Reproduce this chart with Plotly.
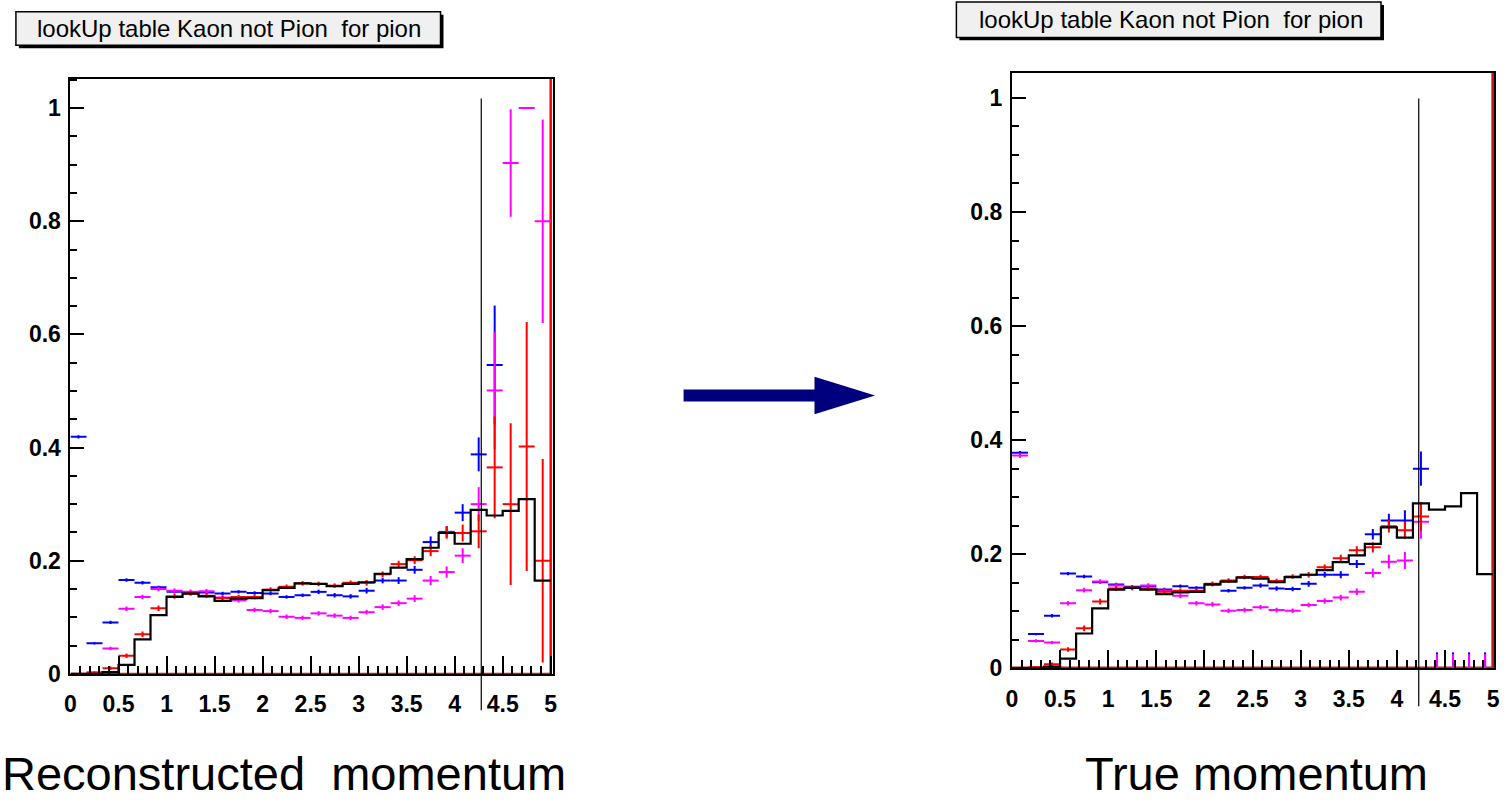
import numpy as np
import plotly.graph_objects as go

W, H = 1511, 802

# ---------------- binning ----------------
nbins = 30
x_min, x_max = 0.0, 5.0
edges = np.linspace(x_min, x_max, nbins + 1)
centers = 0.5 * (edges[:-1] + edges[1:])
half_w = (x_max - x_min) / nbins / 2.0

# ---------------- data: reconstructed momentum (left) ----------------
black_L = [0, 0, 0.003, 0.016, 0.061, 0.104, 0.136, 0.142, 0.137, 0.129,
           0.133, 0.134, 0.148, 0.152, 0.160, 0.159, 0.155, 0.159, 0.162, 0.177,
           0.188, 0.203, 0.223, 0.249, 0.230, 0.290, 0.280, 0.288, 0.309, 0.165]
blue_L = [0.419, 0.054, 0.091, 0.166, 0.161, 0.153, 0.145, 0.144, 0.144, 0.142,
          0.145, 0.143, 0.142, 0.136, 0.139, 0.145, 0.139, 0.137, 0.147, 0.165,
          0.165, 0.184, 0.233, 0.251, 0.285, 0.388, 0.546, None, None, None]
blue_L_err = [0.003, 0.002, 0.003, 0.003, 0.003, 0.003, 0.003, 0.003, 0.003, 0.003,
              0.003, 0.003, 0.003, 0.003, 0.003, 0.004, 0.004, 0.004, 0.005, 0.005,
              0.006, 0.007, 0.010, 0.010, 0.015, 0.030, 0.105, 0, 0, 0]
magenta_L = [None, 0.003, 0.045, 0.115, 0.136, 0.150, 0.147, 0.145, 0.146, 0.135,
             0.130, 0.113, 0.111, 0.101, 0.099, 0.107, 0.103, 0.099, 0.109, 0.118,
             0.125, 0.133, 0.165, 0.180, 0.209, 0.300, 0.501, 0.903, 1.000, 0.800]
magenta_L_err = [0, 0.002, 0.003, 0.004, 0.004, 0.004, 0.004, 0.004, 0.004, 0.004,
                 0.004, 0.004, 0.004, 0.004, 0.004, 0.004, 0.004, 0.004, 0.004, 0.005,
                 0.005, 0.006, 0.008, 0.010, 0.013, 0.030, 0.104, 0.095, 0.0, 0.180]
red_L = [None, 0.001, 0.010, 0.032, 0.070, 0.116, 0.137, 0.142, 0.138, 0.134,
         0.136, 0.136, 0.149, 0.154, 0.160, 0.159, 0.156, 0.161, 0.161, 0.176,
         0.194, 0.201, 0.217, 0.250, 0.249, 0.252, 0.365, 0.300, 0.402, 0.200]
red_L_err = [0, 0.002, 0.003, 0.004, 0.005, 0.005, 0.004, 0.004, 0.004, 0.004,
             0.004, 0.004, 0.004, 0.004, 0.004, 0.004, 0.004, 0.004, 0.005, 0.005,
             0.006, 0.007, 0.009, 0.011, 0.015, 0.030, 0.090, 0.143, 0.220, 0.180]

# ---------------- data: true momentum (right) ----------------
black_R = [0, 0, 0.003, 0.017, 0.061, 0.105, 0.138, 0.141, 0.138, 0.130,
           0.133, 0.134, 0.147, 0.152, 0.159, 0.157, 0.151, 0.160, 0.164, 0.172,
           0.186, 0.198, 0.218, 0.247, 0.229, 0.289, 0.278, 0.284, 0.307, 0.165]
blue_R = [0.378, 0.060, 0.092, 0.166, 0.161, 0.151, 0.147, 0.143, 0.144, 0.138,
          0.144, 0.141, 0.147, 0.136, 0.141, 0.145, 0.140, 0.139, 0.148, 0.164,
          0.164, 0.183, 0.235, 0.259, 0.259, 0.350, 0, 0, 0, 0]
blue_R_err = [0.003, 0.002, 0.003, 0.003, 0.003, 0.003, 0.003, 0.003, 0.003, 0.003,
              0.003, 0.003, 0.003, 0.003, 0.003, 0.004, 0.004, 0.004, 0.005, 0.005,
              0.006, 0.007, 0.009, 0.012, 0.018, 0.030, 0.028, 0.028, 0.028, 0.028]
magenta_R = [0.373, 0.048, 0.045, 0.114, 0.137, 0.152, 0.145, 0.141, 0.145, 0.136,
             0.127, 0.114, 0.112, 0.101, 0.102, 0.107, 0.102, 0.101, 0.111, 0.118,
             0.124, 0.134, 0.167, 0.187, 0.189, 0.257, 0, 0, 0, 0]
magenta_R_err = [0.004, 0.003, 0.003, 0.004, 0.004, 0.004, 0.004, 0.004, 0.004, 0.004,
                 0.004, 0.004, 0.004, 0.004, 0.004, 0.004, 0.004, 0.004, 0.004, 0.005,
                 0.005, 0.006, 0.008, 0.012, 0.015, 0.030, 0.025, 0.025, 0.025, 0.025]
red_R = [0.0, 0.002, 0.007, 0.033, 0.070, 0.117, 0.140, 0.141, 0.140, 0.134,
         0.136, 0.136, 0.148, 0.154, 0.160, 0.160, 0.153, 0.161, 0.164, 0.177,
         0.193, 0.207, 0.212, 0.249, 0.242, 0.266, None, None, None, None]
red_R_err = [0.001, 0.002, 0.003, 0.004, 0.005, 0.005, 0.004, 0.004, 0.004, 0.004,
             0.004, 0.004, 0.004, 0.004, 0.004, 0.004, 0.004, 0.004, 0.005, 0.005,
             0.006, 0.007, 0.009, 0.011, 0.015, 0.025, 0, 0, 0, 0]

cut_L = 4.277   # vertical marker line, reconstructed momentum
cut_R = 4.227   # vertical marker line, true momentum

title_text = "lookUp table Kaon not Pion\u00a0 for pion"
caption_L = "Reconstructed\u00a0 momentum"
caption_R = "True momentum"
x_ticks = [0, 0.5, 1, 1.5, 2, 2.5, 3, 3.5, 4, 4.5, 5]
y_ticks = [0, 0.2, 0.4, 0.6, 0.8, 1]

# ---------------- layout geometry (pixels -> paper) ----------------
def px(x):
    return x / W

def py(y):
    return 1 - y / H

yr_L = [0, 1.052]
yr_R = [0, 1.044]
xr_L = [0, 5.02]
xr_R = [0, 5.01]

fig = go.Figure()

def add_points(vals, errs, color, xa, ya):
    xs, ys, es = [], [], []
    for c, v, e in zip(centers, vals, errs):
        if v is None:
            continue
        xs.append(c); ys.append(v); es.append(e)
    fig.add_trace(go.Scatter(
        x=xs, y=ys, mode="markers", xaxis=xa, yaxis=ya,
        marker=dict(size=2, color=color),
        error_x=dict(type="constant", value=half_w, color=color, thickness=2, width=0),
        error_y=dict(type="data", array=es, color=color, thickness=2, width=0),
        showlegend=False, hoverinfo="skip"))

def add_hist(vals, xa, ya):
    fig.add_trace(go.Scatter(
        x=list(edges), y=list(vals) + [vals[-1]], mode="lines", line_shape="hv",
        line=dict(color="black", width=2.2), xaxis=xa, yaxis=ya,
        showlegend=False, hoverinfo="skip"))

def add_red_edge(xa, ya, ytop, width, color):
    fig.add_trace(go.Scatter(
        x=[x_min, x_max, x_max], y=[0, 0, ytop], mode="lines",
        line=dict(color=color, width=width), xaxis=xa, yaxis=ya,
        showlegend=False, hoverinfo="skip"))

# left panel
add_red_edge("x", "y", yr_L[1], 2.5, "#ff0000")
add_points(blue_L, blue_L_err, "#0000ff", "x", "y")
add_points(magenta_L, magenta_L_err, "#ff00ff", "x", "y")
add_points(red_L, red_L_err, "#ff0000", "x", "y")
add_hist(black_L, "x", "y")

# right panel
add_red_edge("x2", "y2", yr_R[1], 3.5, "#c01818")
add_points(blue_R, blue_R_err, "#0000ff", "x2", "y2")
add_points(magenta_R, magenta_R_err, "#ff00ff", "x2", "y2")
add_points(red_R, red_R_err, "#ff0000", "x2", "y2")
add_hist(black_R, "x2", "y2")

tickfont = dict(family="Liberation Sans, Arial, sans-serif", size=23, color="black", weight="bold")

def xaxis(domain, rng, anchor):
    return dict(domain=domain, range=rng, anchor=anchor, showgrid=False, zeroline=False,
                showline=True, mirror=True, linecolor="black", linewidth=2,
                ticks="inside", ticklen=18, tickwidth=2, tickcolor="black",
                tickmode="array", tickvals=x_ticks, ticktext=[f"{v:g}" for v in x_ticks],
                ticklabelstandoff=9,
                minor=dict(dtick=0.1, tick0=0, ticks="inside", ticklen=8, tickwidth=2, tickcolor="black"),
                tickfont=tickfont, fixedrange=True)

def yaxis(domain, rng, anchor):
    return dict(domain=domain, range=rng, anchor=anchor, showgrid=False, zeroline=False,
                showline=True, mirror=True, linecolor="black", linewidth=2,
                ticks="inside", ticklen=14, tickwidth=2, tickcolor="black",
                tickmode="array", tickvals=y_ticks, ticktext=[f"{v:g}" for v in y_ticks],
                ticklabelstandoff=3,
                minor=dict(dtick=0.05, tick0=0, ticks="inside", ticklen=7, tickwidth=2, tickcolor="black"),
                tickfont=tickfont, fixedrange=True)

fig.update_layout(
    width=W, height=H, margin=dict(l=0, r=0, t=0, b=0),
    paper_bgcolor="white", plot_bgcolor="white", showlegend=False,
    xaxis=xaxis([px(65), px(551)], xr_L, "y"),
    yaxis=yaxis([py(685), py(80)], yr_L, "x"),
    xaxis2=xaxis([px(1014), px(1500)], xr_R, "y2"),
    yaxis2=yaxis([py(679.3), py(74)], yr_R, "x2"),
)

shapes = []
# cut lines (extend below the axis like in the original)
shapes.append(dict(type="line", xref="x", yref="paper", x0=cut_L, x1=cut_L,
                   y0=py(722), y1=py(100), line=dict(color="black", width=1.2), layer="above"))
shapes.append(dict(type="line", xref="x2", yref="paper", x0=cut_R, x1=cut_R,
                   y0=py(718), y1=py(100), line=dict(color="black", width=1.2), layer="above"))

# title boxes with shadow
def title_box(x0, y0, x1, y1):
    s = 3
    shapes.append(dict(type="rect", xref="paper", yref="paper", x0=px(x0 + s), x1=px(x1 + s),
                       y0=py(y1 + s), y1=py(y0 + s), fillcolor="black", line=dict(width=0)))
    shapes.append(dict(type="rect", xref="paper", yref="paper", x0=px(x0), x1=px(x1),
                       y0=py(y1), y1=py(y0), fillcolor="#f0f0f0", line=dict(color="black", width=1.5)))

title_box(10, 12, 438, 46)
title_box(958, 2, 1386, 38)

# arrow
navy = "#00007f"
shapes.append(dict(type="rect", xref="paper", yref="paper", x0=px(683), x1=px(818),
                   y0=py(408), y1=py(396), fillcolor=navy, line=dict(width=0)))
shapes.append(dict(type="path", xref="paper", yref="paper",
                   path=f"M {px(815)},{py(383)} L {px(876)},{py(402)} L {px(815)},{py(421)} Z",
                   fillcolor=navy, line=dict(width=0)))

fig.update_layout(shapes=shapes)

titlefont = dict(family="Liberation Sans, Arial, sans-serif", size=24, color="black")
capfont = dict(family="Liberation Sans, Arial, sans-serif", size=47, color="black")
fig.update_layout(annotations=[
    dict(text=title_text, xref="paper", yref="paper", x=px(225), y=py(29),
         xanchor="center", yanchor="middle", showarrow=False, font=titlefont),
    dict(text=title_text, xref="paper", yref="paper", x=px(1174), y=py(20),
         xanchor="center", yanchor="middle", showarrow=False, font=titlefont),
    dict(text=caption_L, xref="paper", yref="paper", x=px(-6), y=py(786),
         xanchor="left", yanchor="middle", showarrow=False, font=capfont),
    dict(text=caption_R, xref="paper", yref="paper", x=px(1261), y=py(786),
         xanchor="center", yanchor="middle", showarrow=False, font=capfont),
])

fig.write_html("out.html")
